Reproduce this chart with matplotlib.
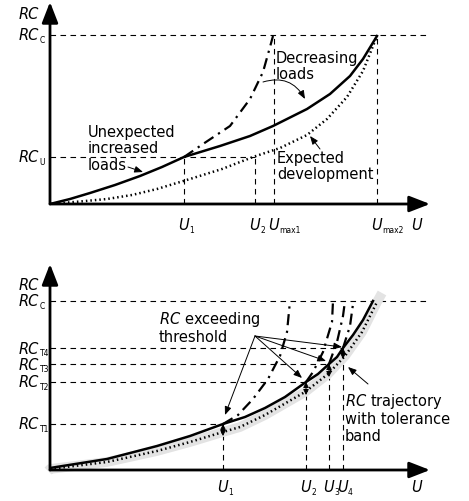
import matplotlib
matplotlib.use("Agg")
import matplotlib.pyplot as plt

plt.rcParams['font.family'] = ['DejaVu Sans']
plt.rcParams['mathtext.fontset'] = 'dejavusans'

# ---------- top panel: load scenarios (arbitrary units, origin = 0,0) ----------
top_u_ticks = [134, 205, 224, 327]
top_u_subs = ['1', '2', 'max1', 'max2']
top_rc_c = 169
top_rc_u = 47

top_expected_u = [0, 30, 57, 82, 107, 140, 172, 203, 230, 257, 277, 297, 313, 327]
top_expected_rc = [0, 2.5, 5, 9, 15, 25, 35, 47, 56, 69, 85, 107, 133, 168]

top_actual_u = [0, 20, 40, 65, 90, 112, 134, 170, 200, 223, 257, 280, 300, 313, 327]
top_actual_rc = [0, 5, 11, 19, 28, 37, 47, 58, 68, 78, 95, 110, 128, 145, 168]

top_increased_u = [134, 153, 180, 200, 213, 220, 223]
top_increased_rc = [47, 60, 78, 105, 132, 157, 168]

# ---------- bottom panel: thresholds ----------
bot_u_ticks = [173, 256, 279, 293]
bot_u_subs = ['1', '2', '3', '4']
bot_rc_c = 169
bot_rc_t = [46, 88, 106, 122]
bot_rc_subs = ['T1', 'T2', 'T3', 'T4']

bot_expected_u = [-2, 0, 57, 107, 140, 173, 190, 215, 255, 278, 295, 312, 327, 332]
bot_expected_rc = [-1, 1, 8, 19, 28, 38, 43, 55, 78, 96, 114, 138, 168, 177]
bot_expected_at_u = [37, 78, 96, 114]

bot_actual_u = [0, 57, 107, 140, 173, 195, 215, 235, 256, 268, 279, 287, 293, 303, 313, 323]
bot_actual_rc = [2, 11, 24, 34, 46, 53, 62, 73, 88, 96, 106, 113, 122, 135, 150, 169]

bot_exceed = [
    ([173, 188, 203, 218, 230, 237, 240], [46, 55, 71, 91, 114, 138, 169]),
    ([256, 263, 273, 282, 283], [88, 98, 118, 148, 169]),
    ([279, 287, 293, 295], [106, 128, 154, 169]),
    ([293, 300, 303], [122, 144, 166]),
]
exceed_from = (205, 134)
exceed_to = [(175, 55), (252, 92), (276, 109), (292, 123)]

W, H = 469, 502
fig = plt.figure(figsize=(W / 100, H / 100), dpi=100)
ax1 = fig.add_axes([50 / W, (H - 205) / H, 380 / W, 202 / H])
ax2 = fig.add_axes([50 / W, (H - 471) / H, 380 / W, 206 / H])
ax1.set_xlim(0, 380)
ax1.set_ylim(0, 202)
ax2.set_xlim(0, 380)
ax2.set_ylim(0, 206)

dash = dict(color='k', lw=0.8, ls=(0, (5, 4)), clip_on=False)
fs = 10.5
sfs = 5.5


def ylabel(ax, y, sub=None):
    ax.text(-11, y, 'RC', style='italic', ha='right', va='center', fontsize=fs)
    if sub:
        ax.annotate(sub, (-11, y), xytext=(0.5, -3.2), textcoords='offset points',
                    ha='left', va='center', fontsize=sfs, annotation_clip=False)


def ulabel(ax, x, y, sub=None):
    ax.text(x, y, 'U', style='italic', ha='center', va='center', fontsize=fs)
    if sub:
        ax.annotate(sub, (x, y), xytext=(3.6, -3.2), textcoords='offset points',
                    ha='left', va='center', fontsize=sfs, annotation_clip=False)


def draw_axes(ax, ytop, rc_y, u_y):
    for tip in [(380, 0), (0, ytop)]:
        ax.annotate('', xy=tip, xytext=(0, 0), annotation_clip=False,
                    arrowprops=dict(arrowstyle='-|>,head_length=0.9,head_width=0.35',
                                    lw=2, color='k', shrinkA=0, shrinkB=0,
                                    mutation_scale=14))
    ylabel(ax, rc_y)
    ulabel(ax, 367, u_y)
    ax.axis('off')


# ---- top ----
ax = ax1
draw_axes(ax, 202, 190, -21)
ax.plot([0, 380], [top_rc_c, top_rc_c], **dash)
ax.plot([0, top_u_ticks[1]], [top_rc_u, top_rc_u], **dash)
for u, top in zip(top_u_ticks, [top_rc_u, top_rc_u, top_rc_c, top_rc_c]):
    ax.plot([u, u], [0, top], **dash)
for u, s in zip(top_u_ticks, top_u_subs):
    ulabel(ax, u, -21, s)
ylabel(ax, top_rc_c, 'C')
ylabel(ax, top_rc_u, 'U')

ax.plot(top_expected_u, top_expected_rc, color='k', lw=1.8, ls=(0, (0.6, 1.2)))
ax.plot(top_actual_u, top_actual_rc, color='k', lw=1.8)
ax.plot(top_increased_u, top_increased_rc, color='k', lw=1.6, ls=(0, (5, 2.5, 1, 2.5)))

ax.text(226, 138.5, 'Decreasing\nloads', ha='left', va='center', fontsize=fs, linespacing=1.15)
ax.text(38, 56, 'Unexpected\nincreased\nloads', ha='left', va='center', fontsize=fs, linespacing=1.1)
ax.text(227, 38.5, 'Expected\ndevelopment', ha='left', va='center', fontsize=fs, linespacing=1.15)
thin = dict(arrowstyle='-|>,head_length=0.5,head_width=0.2', lw=0.7, color='k',
            shrinkA=0, shrinkB=0, mutation_scale=10)
ax.annotate('', xy=(255, 105), xytext=(213, 122), annotation_clip=False,
            arrowprops=dict(thin, connectionstyle='arc3,rad=-0.4'))
ax.annotate('', xy=(93, 32), xytext=(78, 37), annotation_clip=False, arrowprops=thin)
ax.annotate('', xy=(260, 68), xytext=(270, 55), annotation_clip=False, arrowprops=thin)

# ---- bottom ----
ax = ax2
draw_axes(ax, 206, 186, -17)
ax.plot([0, 380], [bot_rc_c, bot_rc_c], **dash)
for u, rc, s in zip(bot_u_ticks, bot_rc_t, bot_rc_subs):
    ax.plot([0, u], [rc, rc], **dash)
    ax.plot([u, u], [0, rc], **dash)
    ylabel(ax, rc, s)
for u, s in zip(bot_u_ticks, bot_u_subs):
    ulabel(ax, u, -17, s)
ylabel(ax, bot_rc_c, 'C')

ax.plot(bot_expected_u, bot_expected_rc, color='#e3e3e3', lw=7, solid_capstyle='butt', clip_on=False)
ax.plot(bot_expected_u[1:-1], bot_expected_rc[1:-1], color='k', lw=1.8, ls=(0, (0.6, 1.2)))
ax.plot(bot_actual_u, bot_actual_rc, color='k', lw=1.8)
for us, rcs in bot_exceed:
    ax.plot(us, rcs, color='k', lw=1.6, ls=(0, (5, 2.5, 1, 2.5)))
for u, lo, hi in zip(bot_u_ticks, bot_expected_at_u, bot_rc_t):
    ax.annotate('', xy=(u, hi), xytext=(u, lo - 3), annotation_clip=False,
                arrowprops=dict(arrowstyle='<|-|>,head_length=0.4,head_width=0.2', lw=0.7,
                                color='k', shrinkA=0, shrinkB=0, mutation_scale=8))
for tgt in exceed_to:
    ax.annotate('', xy=tgt, xytext=exceed_from, annotation_clip=False, arrowprops=thin)

ax.text(109, 143.5, '$RC$ exceeding\nthreshold', ha='left', va='center', fontsize=fs, linespacing=1.15)
ax.text(295, 53, '$RC$ trajectory\nwith tolerance\nband', ha='left', va='center', fontsize=fs, linespacing=1.1)
ax.annotate('', xy=(298, 103), xytext=(318, 86), annotation_clip=False, arrowprops=thin)

fig.savefig('out.png', dpi=100)
